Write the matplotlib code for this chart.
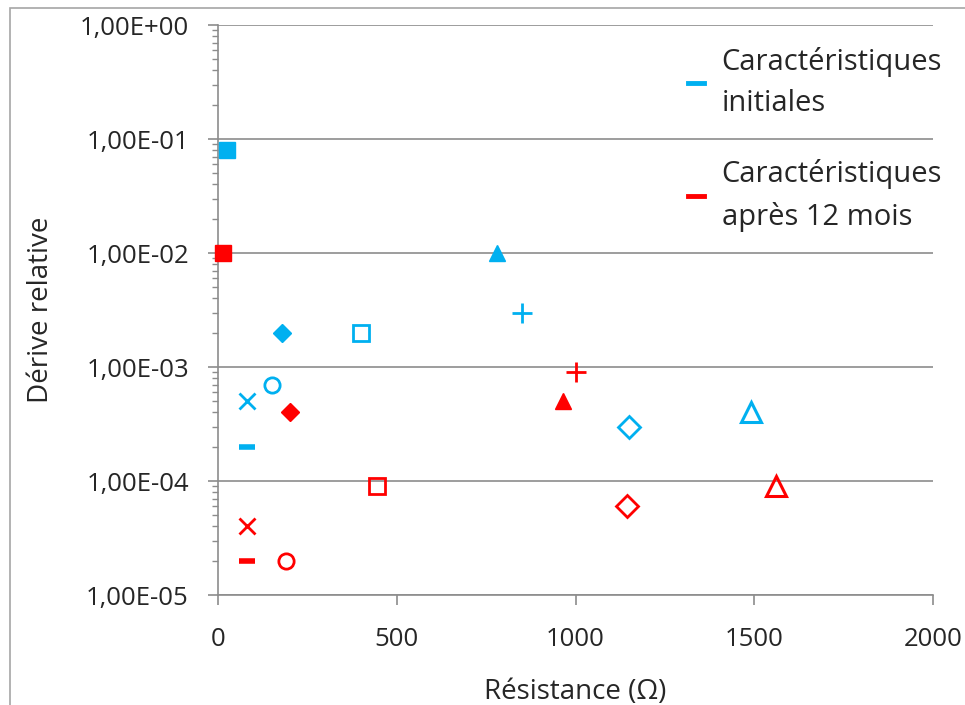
"""Dérive relative vs résistance: initial characteristics and after 12 months."""

import matplotlib
matplotlib.use('Agg')
import matplotlib.pyplot as plt
from matplotlib.lines import Line2D
from matplotlib.patches import Rectangle
from matplotlib.ticker import FuncFormatter, LogLocator, MultipleLocator

plt.rcParams['font.family'] = ['Open Sans', 'DejaVu Sans']

# one entry per component type, same order in every list
shapes = ['s', 's', 'D', 'o', 'x', '_', '^', '+', 'D', '^']
filled = [True, False, True, False, True, True, True, True, False, False]

res_initial = [25, 400, 180, 150, 80, 80, 780, 850, 1150, 1490]
drift_initial = [8e-2, 2e-3, 2e-3, 7e-4, 5e-4, 2e-4, 1e-2, 3e-3, 3e-4, 4e-4]

res_12m = [15, 445, 200, 190, 80, 80, 965, 1000, 1145, 1560]
drift_12m = [1e-2, 9e-5, 4e-4, 2e-5, 4e-5, 2e-5, 5e-4, 9e-4, 6e-5, 9e-5]

series_labels = ['Caractéristiques\ninitiales', 'Caractéristiques\naprès 12 mois']
blue = '#00B0F0'
red = '#FF0000'

# marker size / edge width per shape, filled or open
style = {
    ('s', True): (11.5, 1.0), ('s', False): (11.5, 2.0),
    ('D', True): (9.0, 1.0), ('D', False): (11.0, 2.0),
    ('o', False): (11.0, 2.0),
    ('x', True): (11.0, 2.0), ('+', True): (14.0, 2.0),
    ('_', True): (11.0, 4.0),
    ('^', True): (11.5, 1.0), ('^', False): (14.0, 2.2),
}

fig = plt.figure(figsize=(9.65, 7.05), dpi=100)
ax = fig.add_axes([218 / 965, 1 - 595 / 705, (933 - 218) / 965, (595 - 25) / 705])

for xs, ys, col in [(res_initial, drift_initial, blue), (res_12m, drift_12m, red)]:
    for x, y, m, f in zip(xs, ys, shapes, filled):
        ms, mew = style[(m, f)]
        ax.plot([x], [y], linestyle='none', marker=m, markersize=ms,
                markeredgewidth=mew, color=col,
                markerfacecolor=col if f else 'none', clip_on=False, zorder=3)

ax.set_yscale('log')
ax.set_ylim(1e-5, 1)
ax.set_xlim(0, 2000)
ax.xaxis.set_major_locator(MultipleLocator(500))
ax.yaxis.set_major_locator(LogLocator(base=10, numticks=10))
ax.yaxis.set_minor_locator(LogLocator(base=10, subs=range(2, 10), numticks=20))
ax.yaxis.set_major_formatter(FuncFormatter(lambda v, p: f'{v:.2E}'.replace('.', ',')))
ax.yaxis.set_minor_formatter(FuncFormatter(lambda v, p: ''))

ax.grid(axis='y', which='major', color='#8c8c8c', linewidth=1.2)
ax.set_axisbelow(True)
for side in ['top', 'right']:
    ax.spines[side].set_visible(False)
for side in ['left', 'bottom']:
    ax.spines[side].set_color('#8c8c8c')
    ax.spines[side].set_linewidth(1.2)

ax.tick_params(axis='both', which='major', direction='out', length=7, width=1.2,
               color='#8c8c8c', labelsize=18.5, labelcolor='#262626', pad=14)
ax.tick_params(axis='y', which='minor', direction='out', length=4, width=1,
               color='#8c8c8c')
ax.tick_params(axis='x', pad=16)

ax.set_xlabel('Résistance (Ω)', fontsize=20, color='#262626', labelpad=19)
ax.set_ylabel('Dérive relative', fontsize=20, color='#262626', labelpad=18)

handles = [Line2D([], [], color=blue, linewidth=3.5),
           Line2D([], [], color=red, linewidth=3.5)]
leg = ax.legend(handles, series_labels, loc='upper left',
                bbox_to_anchor=(688 / 965, 1 - 47 / 705),
                bbox_transform=fig.transFigure, frameon=False, fontsize=21,
                handlelength=0.55, handletextpad=0.6, labelspacing=1.4,
                borderpad=0, borderaxespad=0)
for t in leg.get_texts():
    t.set_color('#262626')
    t.set_linespacing(1.55)

# chart area border
fig.patches.append(Rectangle((10 / 965, -0.05), 1.2, 1 - 8 / 705 + 0.05,
                             transform=fig.transFigure, fill=False,
                             edgecolor='#a6a6a6', linewidth=1.2))

fig.savefig('out.png', dpi=100)
plt.close()
